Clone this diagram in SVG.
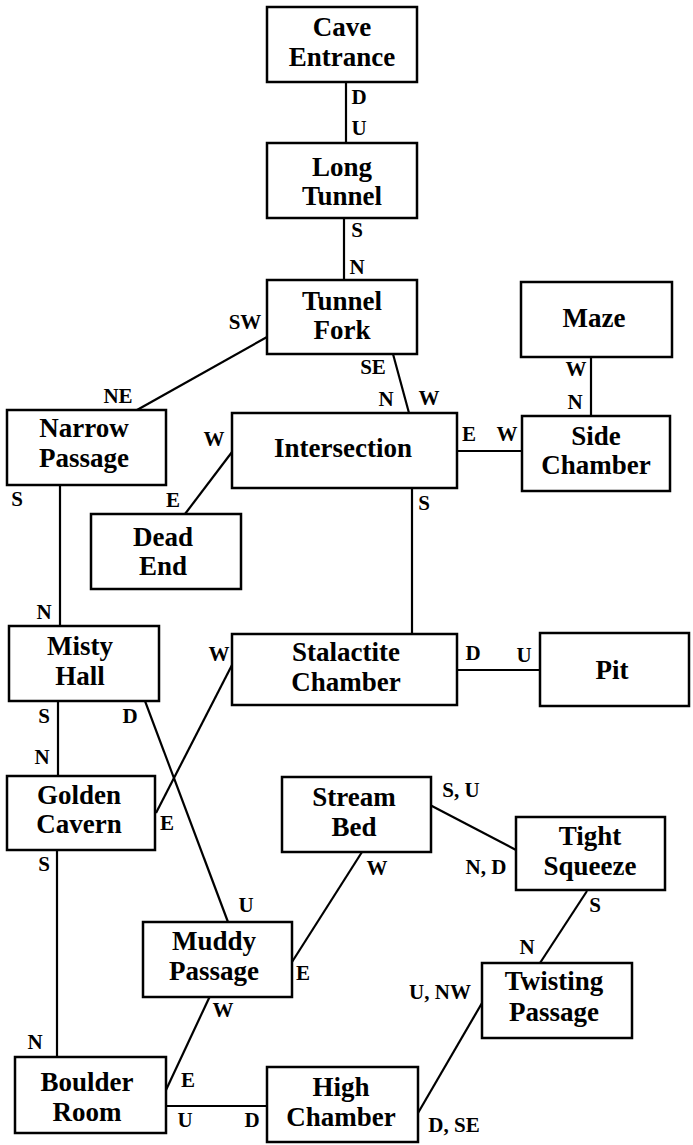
<svg xmlns="http://www.w3.org/2000/svg" width="693" height="1145" viewBox="0 0 693 1145">
<style>
.box{fill:#fff;stroke:#000;stroke-width:2.5}
.name{font-family:"Liberation Serif","Times New Roman",serif;font-weight:bold;font-size:27px;text-anchor:middle;fill:#000}
.lbl{font-family:"Liberation Serif","Times New Roman",serif;font-weight:bold;font-size:21px;text-anchor:middle;fill:#000}
.edge{stroke:#000;stroke-width:2.2;fill:none}
</style>
<rect width="693" height="1145" fill="#fff"/>
<g id="connectors">
<line class="edge" x1="346" y1="82" x2="346" y2="143"/>
<line class="edge" x1="344" y1="218" x2="344" y2="280"/>
<line class="edge" x1="267" y1="337" x2="137" y2="410"/>
<line class="edge" x1="393" y1="354" x2="409" y2="413"/>
<line class="edge" x1="591" y1="357" x2="591" y2="416"/>
<line class="edge" x1="457" y1="451" x2="522" y2="451"/>
<line class="edge" x1="185" y1="514" x2="232" y2="452"/>
<line class="edge" x1="60" y1="485" x2="60" y2="626"/>
<line class="edge" x1="412" y1="488" x2="412" y2="634"/>
<line class="edge" x1="457" y1="670" x2="540" y2="670"/>
<line class="edge" x1="58" y1="701" x2="58" y2="776"/>
<line class="edge" x1="145" y1="701" x2="228" y2="922"/>
<line class="edge" x1="156" y1="813" x2="232" y2="665"/>
<line class="edge" x1="57" y1="850" x2="57" y2="1057"/>
<line class="edge" x1="430" y1="805" x2="516" y2="850"/>
<line class="edge" x1="362" y1="852" x2="292" y2="962"/>
<line class="edge" x1="210" y1="996" x2="166" y2="1090"/>
<line class="edge" x1="587" y1="891" x2="540" y2="963"/>
<line class="edge" x1="482" y1="1003" x2="418" y2="1113"/>
<line class="edge" x1="166" y1="1106" x2="268" y2="1106"/>
<text class="lbl" x="359" y="104">D</text>
<text class="lbl" x="359" y="135">U</text>
<text class="lbl" x="357" y="237">S</text>
<text class="lbl" x="357" y="274">N</text>
<text class="lbl" x="245" y="329">SW</text>
<text class="lbl" x="118" y="403">NE</text>
<text class="lbl" x="373" y="374">SE</text>
<text class="lbl" x="386" y="406">N</text>
<text class="lbl" x="429" y="405">W</text>
<text class="lbl" x="576" y="376">W</text>
<text class="lbl" x="575" y="409">N</text>
<text class="lbl" x="469" y="441">E</text>
<text class="lbl" x="507" y="441">W</text>
<text class="lbl" x="214" y="446">W</text>
<text class="lbl" x="173" y="507">E</text>
<text class="lbl" x="17" y="506">S</text>
<text class="lbl" x="44" y="619">N</text>
<text class="lbl" x="424" y="510">S</text>
<text class="lbl" x="473" y="660">D</text>
<text class="lbl" x="524" y="662">U</text>
<text class="lbl" x="44" y="723">S</text>
<text class="lbl" x="42" y="764">N</text>
<text class="lbl" x="130" y="723">D</text>
<text class="lbl" x="219" y="661">W</text>
<text class="lbl" x="167" y="830">E</text>
<text class="lbl" x="44" y="871">S</text>
<text class="lbl" x="35" y="1049">N</text>
<text class="lbl" x="246" y="912">U</text>
<text class="lbl" x="461" y="797">S, U</text>
<text class="lbl" x="486" y="874">N, D</text>
<text class="lbl" x="377" y="875">W</text>
<text class="lbl" x="303" y="980">E</text>
<text class="lbl" x="223" y="1017">W</text>
<text class="lbl" x="188" y="1087">E</text>
<text class="lbl" x="595" y="912">S</text>
<text class="lbl" x="527" y="954">N</text>
<text class="lbl" x="440" y="999">U, NW</text>
<text class="lbl" x="454" y="1132">D, SE</text>
<text class="lbl" x="185" y="1127">U</text>
<text class="lbl" x="252" y="1127">D</text>
</g>
<g id="cave-entrance"><rect class="box" x="267" y="7" width="150" height="75"/><text class="name" x="342" y="36">Cave</text><text class="name" x="342" y="66">Entrance</text></g>
<g id="long-tunnel"><rect class="box" x="267" y="143" width="150" height="75"/><text class="name" x="342" y="176">Long</text><text class="name" x="342" y="205">Tunnel</text></g>
<g id="tunnel-fork"><rect class="box" x="267" y="280" width="150" height="74"/><text class="name" x="342" y="310">Tunnel</text><text class="name" x="342" y="339">Fork</text></g>
<g id="maze"><rect class="box" x="521" y="282" width="151" height="75"/><text class="name" x="594" y="327">Maze</text></g>
<g id="side-chamber"><rect class="box" x="522" y="416" width="148" height="75"/><text class="name" x="596" y="445">Side</text><text class="name" x="596" y="474">Chamber</text></g>
<g id="narrow-passage"><rect class="box" x="7" y="410" width="159" height="75"/><text class="name" x="84" y="437">Narrow</text><text class="name" x="84" y="467">Passage</text></g>
<g id="intersection"><rect class="box" x="232" y="413" width="225" height="75"/><text class="name" x="343" y="457">Intersection</text></g>
<g id="dead-end"><rect class="box" x="91" y="514" width="150" height="75"/><text class="name" x="163" y="546">Dead</text><text class="name" x="163" y="575">End</text></g>
<g id="misty-hall"><rect class="box" x="9" y="626" width="150" height="75"/><text class="name" x="80" y="655">Misty</text><text class="name" x="80" y="685">Hall</text></g>
<g id="stalactite-chamber"><rect class="box" x="232" y="634" width="225" height="71"/><text class="name" x="346" y="661">Stalactite</text><text class="name" x="346" y="691">Chamber</text></g>
<g id="pit"><rect class="box" x="540" y="633" width="149" height="73"/><text class="name" x="612" y="679">Pit</text></g>
<g id="golden-cavern"><rect class="box" x="7" y="776" width="148" height="74"/><text class="name" x="79" y="804">Golden</text><text class="name" x="79" y="833">Cavern</text></g>
<g id="stream-bed"><rect class="box" x="282" y="777" width="149" height="75"/><text class="name" x="354" y="806">Stream</text><text class="name" x="354" y="836">Bed</text></g>
<g id="tight-squeeze"><rect class="box" x="516" y="817" width="149" height="73"/><text class="name" x="590" y="845">Tight</text><text class="name" x="590" y="875">Squeeze</text></g>
<g id="muddy-passage"><rect class="box" x="143" y="922" width="149" height="75"/><text class="name" x="214" y="950">Muddy</text><text class="name" x="214" y="980">Passage</text></g>
<g id="twisting-passage"><rect class="box" x="482" y="963" width="150" height="75"/><text class="name" x="554" y="990">Twisting</text><text class="name" x="554" y="1021">Passage</text></g>
<g id="boulder-room"><rect class="box" x="15" y="1057" width="151" height="76"/><text class="name" x="87" y="1091">Boulder</text><text class="name" x="87" y="1121">Room</text></g>
<g id="high-chamber"><rect class="box" x="267" y="1067" width="151" height="75"/><text class="name" x="341" y="1096">High</text><text class="name" x="341" y="1126">Chamber</text></g>
</svg>
